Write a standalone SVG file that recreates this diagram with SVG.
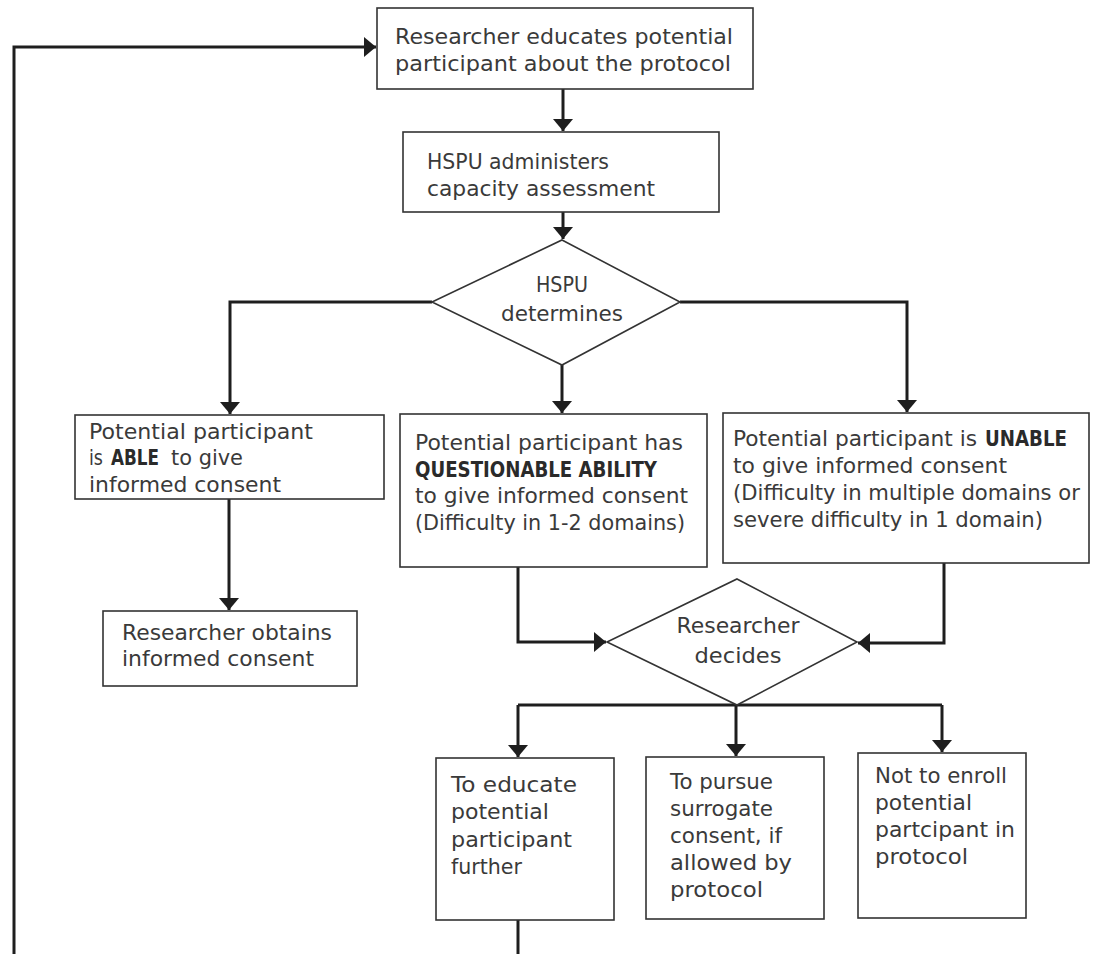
<svg xmlns="http://www.w3.org/2000/svg" width="1095" height="954" viewBox="0 0 1095 954">
<style>
.box{fill:#fff;stroke:#333;stroke-width:1.6}
.con{fill:none;stroke:#1e1e1e;stroke-width:3}
text{font-family:"DejaVu Sans","Liberation Sans",sans-serif;font-size:22px;fill:#3a3a3a}
.b{font-weight:bold;fill:#2a2a2a}
.c{text-anchor:middle}
</style>
<defs>
<marker id="ah" markerUnits="userSpaceOnUse" markerWidth="13" markerHeight="21" refX="12" refY="10" orient="auto">
<path d="M0,0 L12,10 L0,20 z" fill="#1e1e1e"/>
</marker>
</defs>
<rect width="1095" height="954" fill="#fff"/>
<g id="connectors">
<path class="con" d="M14,954 V47 H376" marker-end="url(#ah)"/>
<path class="con" d="M563,89 V131" marker-end="url(#ah)"/>
<path class="con" d="M563,212 V239" marker-end="url(#ah)"/>
<path class="con" d="M432,302 H230 V414" marker-end="url(#ah)"/>
<path class="con" d="M562,365 V413" marker-end="url(#ah)"/>
<path class="con" d="M680,302 H907 V412" marker-end="url(#ah)"/>
<path class="con" d="M229,499 V610" marker-end="url(#ah)"/>
<path class="con" d="M518,567 V642 H606" marker-end="url(#ah)"/>
<path class="con" d="M944,563 V643 H858" marker-end="url(#ah)"/>
<path class="con" d="M518,705 H942"/>
<path class="con" d="M518,705 V757" marker-end="url(#ah)"/>
<path class="con" d="M736,705 V756" marker-end="url(#ah)"/>
<path class="con" d="M942,705 V752" marker-end="url(#ah)"/>
<path class="con" d="M518,920 V954"/>
</g>
<g id="n1">
<rect class="box" x="377" y="8" width="376" height="81"/>
<text x="395" y="44" textLength="338" lengthAdjust="spacingAndGlyphs">Researcher educates potential</text>
<text x="395" y="71" textLength="336" lengthAdjust="spacingAndGlyphs">participant about the protocol</text>
</g>
<g id="n2">
<rect class="box" x="403" y="132" width="316" height="80"/>
<text x="427" y="169" textLength="182" lengthAdjust="spacingAndGlyphs">HSPU administers</text>
<text x="427" y="196" textLength="228" lengthAdjust="spacingAndGlyphs">capacity assessment</text>
</g>
<g id="d1">
<polygon class="box" points="562,240 680,302 562,365 432,302"/>
<text class="c" x="562" y="292" textLength="52" lengthAdjust="spacingAndGlyphs">HSPU</text>
<text class="c" x="562" y="321" textLength="122" lengthAdjust="spacingAndGlyphs">determines</text>
</g>
<g id="n3">
<rect class="box" x="75" y="415" width="309" height="84"/>
<text x="89" y="439" textLength="224" lengthAdjust="spacingAndGlyphs">Potential participant</text>
<text x="89" y="465" textLength="14" lengthAdjust="spacingAndGlyphs">is</text>
<text x="111" y="465" class="b" textLength="48" lengthAdjust="spacingAndGlyphs">ABLE</text>
<text x="171" y="465" textLength="72" lengthAdjust="spacingAndGlyphs">to give</text>
<text x="89" y="492" textLength="192" lengthAdjust="spacingAndGlyphs">informed consent</text>
</g>
<g id="n4">
<rect class="box" x="400" y="414" width="307" height="153"/>
<text x="415" y="450" textLength="268" lengthAdjust="spacingAndGlyphs">Potential participant has</text>
<text x="415" y="477" class="b" textLength="242" lengthAdjust="spacingAndGlyphs">QUESTIONABLE ABILITY</text>
<text x="415" y="503" textLength="273" lengthAdjust="spacingAndGlyphs">to give informed consent</text>
<text x="415" y="530" textLength="270" lengthAdjust="spacingAndGlyphs">(Difficulty in 1-2 domains)</text>
</g>
<g id="n5">
<rect class="box" x="723" y="413" width="366" height="150"/>
<text x="733" y="446" textLength="244" lengthAdjust="spacingAndGlyphs">Potential participant is</text>
<text x="985" y="446" class="b" textLength="82" lengthAdjust="spacingAndGlyphs">UNABLE</text>
<text x="733" y="473" textLength="274" lengthAdjust="spacingAndGlyphs">to give informed consent</text>
<text x="733" y="500" textLength="347" lengthAdjust="spacingAndGlyphs">(Difficulty in multiple domains or</text>
<text x="733" y="527" textLength="310" lengthAdjust="spacingAndGlyphs">severe difficulty in 1 domain)</text>
</g>
<g id="n6">
<rect class="box" x="103" y="611" width="254" height="75"/>
<text x="122" y="640" textLength="210" lengthAdjust="spacingAndGlyphs">Researcher obtains</text>
<text x="122" y="666" textLength="192" lengthAdjust="spacingAndGlyphs">informed consent</text>
</g>
<g id="d2">
<polygon class="box" points="737,579 857,642 737,705 607,642"/>
<text class="c" x="738" y="633" textLength="123" lengthAdjust="spacingAndGlyphs">Researcher</text>
<text class="c" x="738" y="663" textLength="87" lengthAdjust="spacingAndGlyphs">decides</text>
</g>
<g id="n7">
<rect class="box" x="436" y="758" width="178" height="162"/>
<text x="451" y="792" textLength="126" lengthAdjust="spacingAndGlyphs">To educate</text>
<text x="451" y="819" textLength="98" lengthAdjust="spacingAndGlyphs">potential</text>
<text x="451" y="847" textLength="121" lengthAdjust="spacingAndGlyphs">participant</text>
<text x="451" y="874" textLength="71" lengthAdjust="spacingAndGlyphs">further</text>
</g>
<g id="n8">
<rect class="box" x="646" y="757" width="178" height="162"/>
<text x="670" y="789" textLength="103" lengthAdjust="spacingAndGlyphs">To pursue</text>
<text x="670" y="816" textLength="103" lengthAdjust="spacingAndGlyphs">surrogate</text>
<text x="670" y="843" textLength="112" lengthAdjust="spacingAndGlyphs">consent, if</text>
<text x="670" y="870" textLength="122" lengthAdjust="spacingAndGlyphs">allowed by</text>
<text x="670" y="897" textLength="93" lengthAdjust="spacingAndGlyphs">protocol</text>
</g>
<g id="n9">
<rect class="box" x="858" y="753" width="168" height="165"/>
<text x="875" y="783" textLength="132" lengthAdjust="spacingAndGlyphs">Not to enroll</text>
<text x="875" y="810" textLength="97" lengthAdjust="spacingAndGlyphs">potential</text>
<text x="875" y="837" textLength="140" lengthAdjust="spacingAndGlyphs">partcipant in</text>
<text x="875" y="864" textLength="93" lengthAdjust="spacingAndGlyphs">protocol</text>
</g>
</svg>
